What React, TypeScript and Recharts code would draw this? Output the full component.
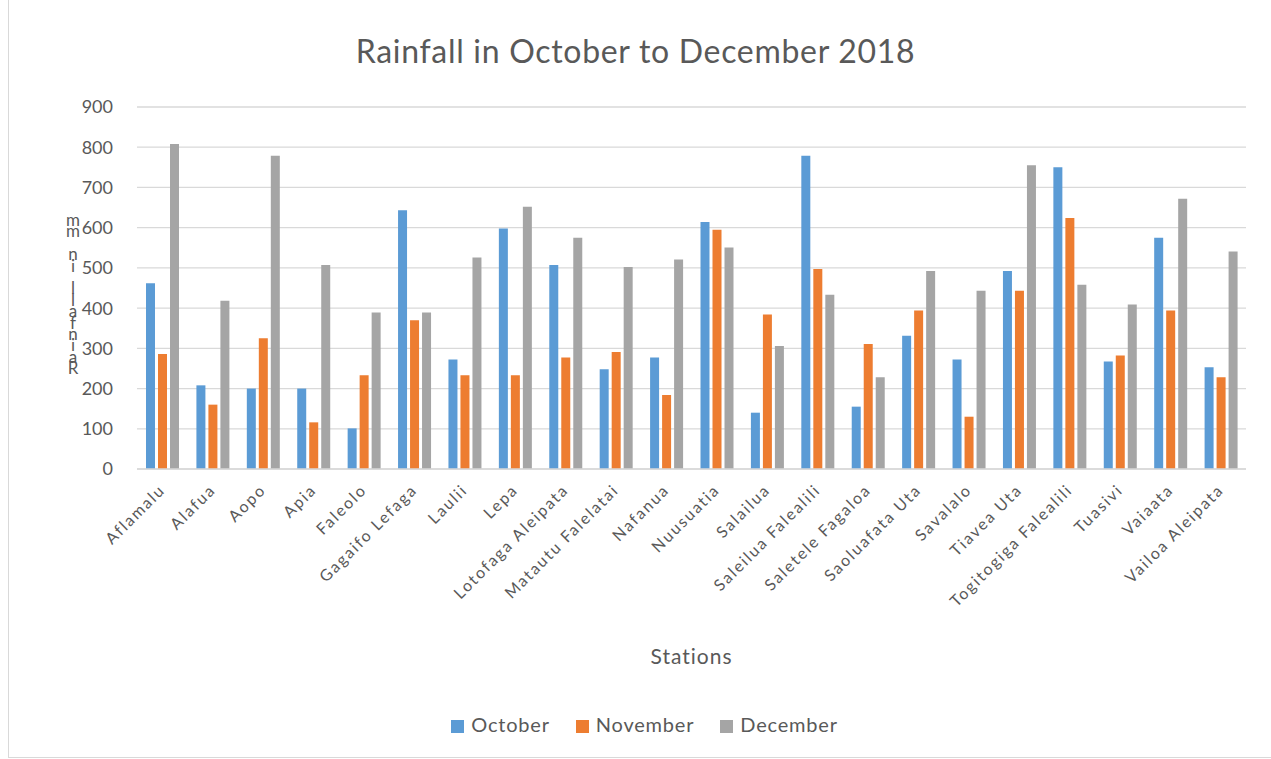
import React from "react";
import {
  BarChart,
  Bar,
  XAxis,
  YAxis,
  CartesianGrid,
  Legend,
} from "recharts";

const stations = [
  "Aflamalu",
  "Alafua",
  "Aopo",
  "Apia",
  "Faleolo",
  "Gagaifo Lefaga",
  "Laulii",
  "Lepa",
  "Lotofaga Aleipata",
  "Matautu Falelatai",
  "Nafanua",
  "Nuusuatia",
  "Salailua",
  "Saleilua Falealili",
  "Saletele Fagaloa",
  "Saoluafata Uta",
  "Savalalo",
  "Tiavea Uta",
  "Togitogiga Falealili",
  "Tuasivi",
  "Vaiaata",
  "Vailoa Aleipata",
];

const october = [462, 208, 200, 200, 101, 643, 272, 598, 507, 248, 277, 614, 140, 779, 155, 331, 272, 492, 750, 267, 575, 253];
const november = [286, 160, 325, 116, 233, 370, 233, 233, 277, 291, 184, 595, 384, 497, 311, 394, 130, 443, 624, 282, 394, 228];
const december = [808, 418, 779, 507, 389, 389, 526, 652, 575, 502, 521, 551, 306, 433, 228, 492, 443, 755, 458, 409, 672, 541];

const yTicks = [0, 100, 200, 300, 400, 500, 600, 700, 800, 900];
const seriesOrder = ["October", "November", "December"];

const data = stations.map((s, i) => ({
  station: s,
  October: october[i],
  November: november[i],
  December: december[i],
}));

const FONT = "Lato, 'Open Sans', sans-serif";
const TEXT = "#595959";

function StationTick({ x, y, payload }: any) {
  return (
    <text
      x={x + 4}
      y={y + 14}
      transform={`rotate(-45, ${x + 4}, ${y + 14})`}
      textAnchor="end"
      fill={TEXT}
      fontSize={16}
      letterSpacing={1.9}
      fontFamily={FONT}
    >
      {payload.value}
    </text>
  );
}

function StackedLabel() {
  const letters = "mm ni llafniaR".split("");
  return (
    <text fill={TEXT} fontSize={17} fontFamily={FONT} textAnchor="middle">
      {letters.map((c, i) => (
        <tspan key={i} x={73} y={226 + i * 11.4}>
          {c === " " ? "\u00a0" : c}
        </tspan>
      ))}
    </text>
  );
}

export default function App() {
  return (
    <div
      style={{
        position: "absolute",
        left: 0,
        top: 0,
        width: 1271,
        height: 759,
        background: "#fff",
        fontFamily: FONT,
      }}
    >
      <div
        style={{
          position: "absolute",
          left: 8,
          top: 0,
          width: 1263,
          height: 757,
          borderLeft: "1px solid #d9d9d9",
          borderBottom: "1px solid #d9d9d9",
        }}
      />
      <div
        style={{
          position: "absolute",
          top: 31,
          left: 0,
          width: 1271,
          textAlign: "center",
          fontSize: 32,
          letterSpacing: 0.7,
          color: TEXT,
        }}
      >
        Rainfall in October to December 2018
      </div>
      <div style={{ position: "absolute", left: 0, top: 0 }}>
        <BarChart
          width={1271}
          height={759}
          data={data}
          margin={{ top: 107, right: 25, left: 0, bottom: 66 }}
          barSize={9}
          barGap={3}
        >
          <CartesianGrid vertical={false} stroke="#d9d9d9" strokeWidth={1.3} />
          <XAxis
            dataKey="station"
            interval={0}
            height={200}
            axisLine={{ stroke: "#d9d9d9", strokeWidth: 1.3 }}
            tickLine={false}
            tick={<StationTick />}
            label={{
              value: "Stations",
              position: "insideBottom",
              offset: 5,
              fill: TEXT,
              fontSize: 21,
              letterSpacing: 1,
              fontFamily: FONT,
            }}
          />
          <YAxis
            width={137}
            domain={[0, 900]}
            ticks={yTicks}
            axisLine={false}
            tickLine={false}
            tickSize={0}
            tickMargin={24}
            tick={{ fill: TEXT, fontSize: 18, fontFamily: FONT }}
            label={<StackedLabel />}
          />
          <Legend
            verticalAlign="bottom"
            iconType="square"
            iconSize={13}
            itemSorter={(item: any) => seriesOrder.indexOf(item.value)}
            wrapperStyle={{ top: 712, left: 22, width: 1271, fontSize: 20, letterSpacing: 0.8, fontFamily: FONT }}
            formatter={(v: string) => <span style={{ color: TEXT, marginLeft: 3, marginRight: 16 }}>{v}</span>}
          />
          <Bar dataKey="October" fill="#5B9BD5" isAnimationActive={false} />
          <Bar dataKey="November" fill="#ED7D31" isAnimationActive={false} />
          <Bar dataKey="December" fill="#A5A5A5" isAnimationActive={false} />
        </BarChart>
      </div>
    </div>
  );
}
